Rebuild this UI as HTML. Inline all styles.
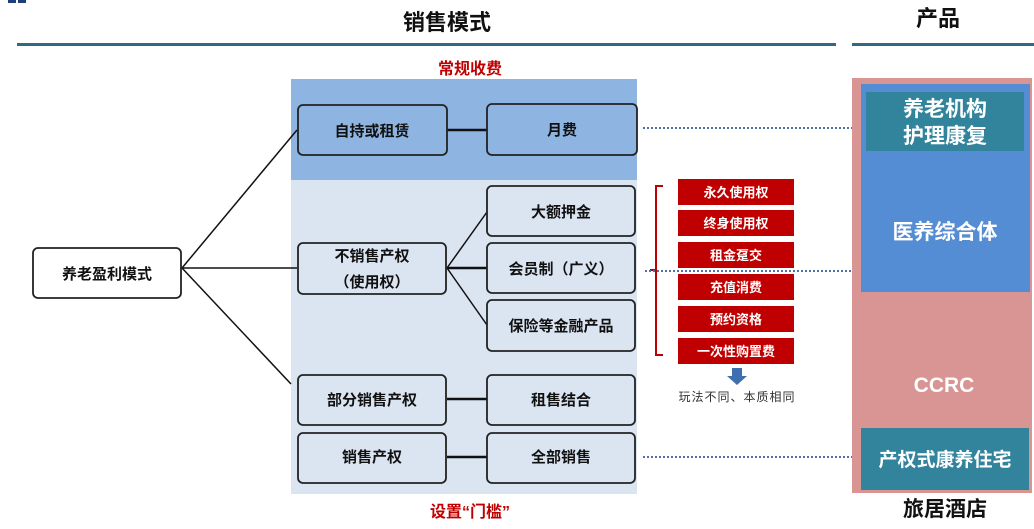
<!DOCTYPE html>
<html><head><meta charset="utf-8"><style>
body{margin:0;width:1034px;height:524px;overflow:hidden;background:#fff;font-family:"Liberation Sans","Noto Sans CJK SC",sans-serif}
text{font-family:"Liberation Sans","Noto Sans CJK SC",sans-serif;font-weight:bold}
</style></head><body>
<svg width="1034" height="524" viewBox="0 0 1034 524">
<rect x="8" y="0" width="8" height="3" fill="#1f3f7a"/><rect x="18" y="0" width="8" height="3" fill="#1f3f7a"/>
<text x="447" y="30" font-size="22" text-anchor="middle" fill="#111">销售模式</text>
<text x="938" y="26" font-size="22" text-anchor="middle" fill="#111">产品</text>
<rect x="17" y="43" width="819" height="3" fill="#2f6a80"/>
<rect x="852" y="43" width="182" height="3" fill="#2f6a80"/>
<text x="470" y="74" font-size="16" text-anchor="middle" fill="#c00000">常规收费</text>
<rect x="291" y="79" width="346" height="101" fill="#8eb4e2"/>
<rect x="291" y="180" width="346" height="314" fill="#dbe4f1"/>
<text x="470" y="517" font-size="16" text-anchor="middle" fill="#c00000">设置“门槛”</text>
<g stroke="#111" stroke-width="1.5" fill="none">
<line x1="182" y1="268" x2="297" y2="130"/>
<line x1="182" y1="268" x2="297" y2="268"/>
<line x1="182" y1="268" x2="291" y2="384"/>
<line x1="447" y1="268" x2="487" y2="212"/>
<line x1="447" y1="268" x2="487" y2="325"/>
</g>
<g stroke="#111" stroke-width="2.5">
<line x1="447" y1="130" x2="487" y2="130"/>
<line x1="447" y1="268" x2="487" y2="268"/>
<line x1="447" y1="399" x2="487" y2="399"/>
<line x1="447" y1="457" x2="487" y2="457"/>
</g>
<g stroke="#222" stroke-width="1.8">
<rect x="33" y="248" width="148" height="50" rx="5" fill="#fff"/>
<rect x="298" y="105" width="149" height="50" rx="5" fill="#8eb4e2"/>
<rect x="487" y="104" width="150" height="51" rx="5" fill="#8eb4e2"/>
<rect x="487" y="186" width="148" height="50" rx="5" fill="#dbe4f1"/>
<rect x="487" y="243" width="148" height="50" rx="5" fill="#dbe4f1"/>
<rect x="487" y="300" width="148" height="51" rx="5" fill="#dbe4f1"/>
<rect x="298" y="243" width="148" height="51" rx="5" fill="#dbe4f1"/>
<rect x="298" y="375" width="148" height="50" rx="5" fill="#dbe4f1"/>
<rect x="487" y="375" width="148" height="50" rx="5" fill="#dbe4f1"/>
<rect x="298" y="433" width="148" height="50" rx="5" fill="#dbe4f1"/>
<rect x="487" y="433" width="148" height="50" rx="5" fill="#dbe4f1"/>
</g>
<g font-size="15" fill="#111" text-anchor="middle">
<text x="107" y="279">养老盈利模式</text>
<text x="372" y="136">自持或租赁</text>
<text x="562" y="135">月费</text>
<text x="561" y="217">大额押金</text>
<text x="561" y="274">会员制（广义）</text>
<text x="561" y="331">保险等金融产品</text>
<text x="372" y="261">不销售产权</text>
<text x="372" y="287">（使用权）</text>
<text x="372" y="405">部分销售产权</text>
<text x="561" y="405">租售结合</text>
<text x="372" y="462">销售产权</text>
<text x="561" y="462">全部销售</text>
</g>
<g fill="#c00000">
<rect x="678" y="179" width="116" height="26"/>
<rect x="678" y="210" width="116" height="26"/>
<rect x="678" y="242" width="116" height="26"/>
<rect x="678" y="274" width="116" height="26"/>
<rect x="678" y="306" width="116" height="26"/>
<rect x="678" y="338" width="116" height="26"/>
</g>
<g font-size="13" fill="#fff" text-anchor="middle">
<text x="736" y="197">永久使用权</text>
<text x="736" y="228">终身使用权</text>
<text x="736" y="260">租金趸交</text>
<text x="736" y="292">充值消费</text>
<text x="736" y="324">预约资格</text>
<text x="736" y="356">一次性购置费</text>
</g>
<path d="M663 186 H656 V355 H663 M656 270 H650" stroke="#c00000" stroke-width="2" fill="none"/>
<path d="M732 368 H742 V376 H747 L737 385 L727 376 H732 Z" fill="#3e6fae"/>
<text x="737" y="401" font-size="12" font-weight="normal" style="font-weight:normal" text-anchor="middle" fill="#333" letter-spacing="1">玩法不同、本质相同</text>
<g stroke="#4f6fa8" stroke-width="2" stroke-dasharray="2,2">
<line x1="643" y1="128" x2="852" y2="128"/>
<line x1="645" y1="271" x2="861" y2="271"/>
<line x1="643" y1="457" x2="861" y2="457"/>
</g>
<rect x="852" y="78" width="180" height="415" fill="#d99594"/>
<rect x="861" y="84" width="169" height="208" fill="#548dd4"/>
<rect x="866" y="92" width="158" height="59" fill="#31849b"/>
<rect x="861" y="428" width="168" height="62" fill="#31849b"/>
<g fill="#fff" text-anchor="middle">
<text x="945" y="116" font-size="21">养老机构</text>
<text x="945" y="143" font-size="21">护理康复</text>
<text x="945" y="239" font-size="21">医养综合体</text>
<text x="944" y="392" font-size="21">CCRC</text>
<text x="945" y="466" font-size="19">产权式康养住宅</text>
</g>
<text x="945" y="516" font-size="21" text-anchor="middle" fill="#111">旅居酒店</text>
</svg>
</body></html>
